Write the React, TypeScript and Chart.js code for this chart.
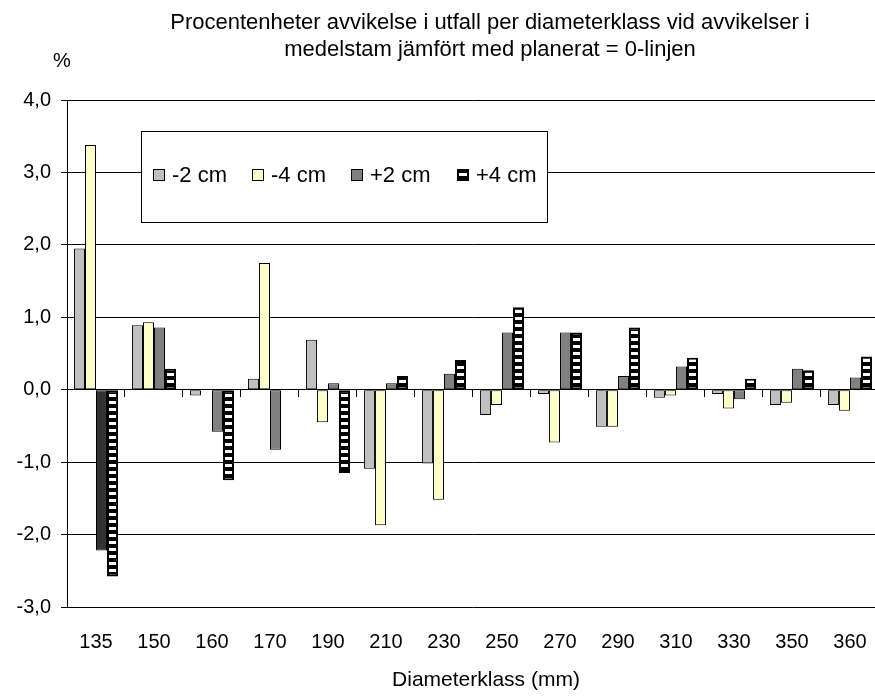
import React, { useEffect, useRef } from "react";
import { Chart, registerables } from "chart.js";

Chart.register(...registerables);

// Diameter classes (mm)
const categories = ["135", "150", "160", "170", "190", "210", "230", "250", "270", "290", "310", "330", "350", "360"];

// Percentage-point deviation per diameter class
const minus2cm = [1.95, 0.89, -0.08, 0.15, 0.69, -1.09, -1.02, -0.35, -0.06, -0.51, -0.11, -0.06, -0.21, -0.21];
const minus4cm = [3.38, 0.93, null, 1.75, -0.45, -1.87, -1.52, -0.21, -0.73, -0.51, -0.08, -0.26, -0.18, -0.29];
const plus2cm = [-2.22, 0.86, -0.58, -0.83, 0.09, 0.09, 0.22, 0.79, 0.79, 0.19, 0.32, -0.13, 0.29, 0.17];
const plus4cm = [-2.58, 0.29, -1.25, null, -1.15, 0.19, 0.41, 1.14, 0.79, 0.86, 0.44, 0.15, 0.27, 0.46];

const seriesNames = ["-2 cm", "-4 cm", "+2 cm", "+4 cm"];
const yMin = -3;
const yMax = 4;

const titleLines = [
  "Procentenheter avvikelse i utfall per diameterklass vid avvikelser i",
  "medelstam jämfört med planerat = 0-linjen",
];
const yUnit = "%";
const xTitle = "Diameterklass (mm)";

const FONT = "'Liberation Sans', Arial, sans-serif";

function makeStripePattern(): CanvasPattern | string {
  const c = document.createElement("canvas");
  c.width = 8;
  c.height = 7;
  const g = c.getContext("2d");
  if (!g) return "#000";
  g.fillStyle = "#000";
  g.fillRect(0, 0, 8, 7);
  g.fillStyle = "#fff";
  g.fillRect(0, 2, 8, 3);
  const p = g.createPattern(c, "repeat");
  return p || "#000";
}

export default function App() {
  const canvasRef = useRef<HTMLCanvasElement | null>(null);

  useEffect(() => {
    const canvas = canvasRef.current;
    if (!canvas) return;
    const stripes = makeStripePattern();

    const fills = ["#C0C0C0", "#FFFFCC", "#808080", stripes];

    const annotations = {
      id: "annotations",
      afterDraw(chart: any) {
        const ctx = chart.ctx as CanvasRenderingContext2D;
        ctx.save();
        ctx.fillStyle = "#000";
        ctx.textBaseline = "middle";

        // chart title
        ctx.font = `22px ${FONT}`;
        ctx.textAlign = "center";
        ctx.fillText(titleLines[0], 490, 23);
        ctx.fillText(titleLines[1], 490, 50);

        // unit above the value axis
        ctx.font = `20px ${FONT}`;
        ctx.fillText(yUnit, 62, 61);

        // category axis title
        ctx.font = `21px ${FONT}`;
        ctx.fillText(xTitle, 486, 680);

        // legend box
        const bx = 141, by = 131, bw = 406, bh = 91;
        ctx.fillStyle = "#fff";
        ctx.fillRect(bx, by, bw, bh);
        ctx.strokeStyle = "#000";
        ctx.lineWidth = 1;
        ctx.strokeRect(bx + 0.5, by + 0.5, bw, bh);

        const itemX = [153, 252, 351, 457];
        const cy = by + 44;
        ctx.font = `22px ${FONT}`;
        ctx.textAlign = "left";
        seriesNames.forEach((name, i) => {
          const sx = itemX[i];
          const sy = cy - 6;
          if (i === 3) {
            ctx.fillStyle = "#000";
            ctx.fillRect(sx, sy, 12, 12);
            ctx.fillStyle = "#fff";
            ctx.fillRect(sx + 2, sy + 4, 8, 3);
          } else {
            ctx.fillStyle = fills[i] as string;
            ctx.fillRect(sx, sy, 12, 12);
            ctx.strokeStyle = "#000";
            ctx.strokeRect(sx + 0.5, sy + 0.5, 11, 11);
          }
          ctx.fillStyle = "#000";
          ctx.fillText(name, sx + 19, cy + 1);
        });
        ctx.restore();
      },
    };

    const chart = new Chart(canvas, {
      type: "bar",
      data: {
        labels: categories,
        datasets: [
          { label: seriesNames[0], data: minus2cm, backgroundColor: fills[0], borderColor: "#000", borderWidth: 1 },
          { label: seriesNames[1], data: minus4cm, backgroundColor: fills[1], borderColor: "#000", borderWidth: 1 },
          {
            label: seriesNames[2],
            data: plus2cm,
            backgroundColor: plus2cm.map((_, i) => (i === 0 ? "#333333" : "#808080")),
            borderColor: "#000",
            borderWidth: 1,
          },
          { label: seriesNames[3], data: plus4cm, backgroundColor: fills[3], borderColor: "#000", borderWidth: 2 },
        ] as any,
      },
      options: {
        responsive: false,
        animation: false,
        devicePixelRatio: 1,
        layout: { padding: { top: 100, right: 10, left: 0, bottom: 0 } },
        datasets: {
          bar: {
            categoryPercentage: 0.76,
            barPercentage: 1,
            borderSkipped: false,
          },
        } as any,
        plugins: {
          legend: { display: false },
          title: { display: false },
          tooltip: { enabled: false },
        },
        scales: {
          x: {
            type: "category",
            offset: true,
            grid: { display: false, drawTicks: false },
            border: { display: false },
            ticks: {
              color: "#000",
              font: { family: FONT, size: 20 },
              padding: 23,
              maxRotation: 0,
              autoSkip: false,
            },
            afterFit: (s: any) => {
              s.height = 91;
            },
          },
          x2: {
            type: "category",
            position: { y: 0 },
            offset: true,
            grid: { offset: true, drawOnChartArea: false, tickLength: 7, color: "#000", lineWidth: 1 },
            border: { display: true, color: "#000", width: 1 },
            ticks: { display: false },
            afterFit: (s: any) => {
              s.height = 0;
            },
          },
          y: {
            min: yMin,
            max: yMax,
            ticks: {
              stepSize: 1,
              color: "#000",
              font: { family: FONT, size: 20 },
              padding: 10,
              callback: (v: any) => Number(v).toFixed(1).replace(".", ","),
            },
            grid: { color: "#000", lineWidth: 1, tickLength: 6 },
            border: { display: true, color: "#000", width: 1 },
            afterFit: (s: any) => {
              s.width = 67;
            },
          },
        } as any,
      },
      plugins: [annotations],
    });

    return () => {
      chart.destroy();
    };
  }, []);

  return (
    <div
      style={{
        position: "absolute",
        left: 0,
        top: 0,
        width: 875,
        height: 698,
        overflow: "hidden",
        background: "#fff",
      }}
    >
      <canvas ref={canvasRef} width={890} height={698} style={{ display: "block", width: 890, height: 698 }} />
    </div>
  );
}
